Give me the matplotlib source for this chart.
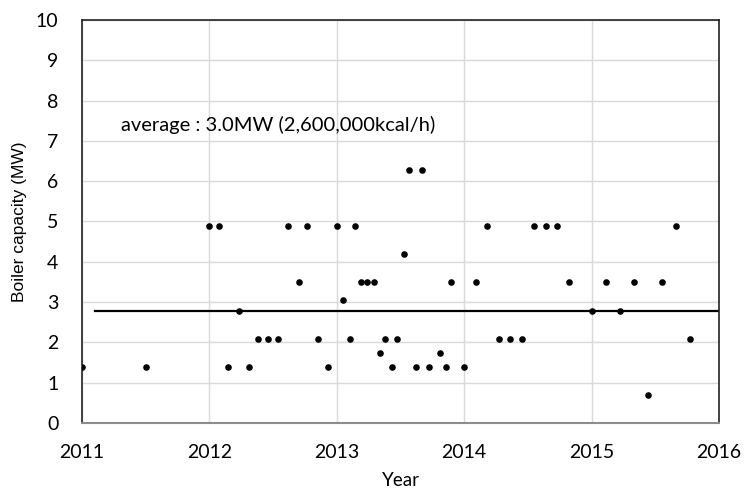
import numpy as np
import matplotlib.pyplot as plt

# installation date (decimal year) and boiler capacity (MW)
year = [2011.00, 2011.50, 2012.00, 2012.075, 2012.15, 2012.23, 2012.31, 2012.38,
        2012.46, 2012.54, 2012.62, 2012.70, 2012.77, 2012.85, 2012.93, 2013.00,
        2013.05, 2013.10, 2013.14, 2013.19, 2013.24, 2013.29, 2013.34, 2013.38,
        2013.43, 2013.47, 2013.53, 2013.57, 2013.62, 2013.67, 2013.72, 2013.81,
        2013.86, 2013.90, 2014.00, 2014.09, 2014.18, 2014.27, 2014.36, 2014.45,
        2014.55, 2014.64, 2014.73, 2014.82, 2015.00, 2015.11, 2015.22, 2015.33,
        2015.44, 2015.55, 2015.665, 2015.77]
capacity = [1.40, 1.40, 4.88, 4.88, 1.40, 2.79, 1.40, 2.09,
            2.09, 2.09, 4.88, 3.49, 4.88, 2.09, 1.40, 4.88,
            3.05, 2.09, 4.88, 3.49, 3.49, 3.49, 1.74, 2.09,
            1.40, 2.09, 4.19, 6.28, 1.40, 6.28, 1.40, 1.74,
            1.40, 3.49, 1.40, 3.49, 4.88, 2.09, 2.09, 2.09,
            4.88, 4.88, 4.88, 3.49, 2.79, 3.49, 2.79, 3.49,
            0.69, 3.49, 4.88, 2.09]

avg_x = [2011.10, 2016.0]
avg_y = [2.77, 2.77]
avg_text = "average : 3.0MW (2,600,000kcal/h)"

fig = plt.figure(figsize=(7.46, 4.91), dpi=100)
ax = fig.add_axes([0.1099, 0.1385, 0.8539, 0.8208])

ax.scatter(year, capacity, s=14, color="black", zorder=3)
ax.plot(avg_x, avg_y, color="black", lw=1.6, zorder=2)
ax.text(2011.31, 7.4, avg_text, fontsize=14.5, family="Lato", va="center")

ax.set_xlim(2011, 2016)
ax.set_ylim(0, 10)
ax.set_xticks(np.arange(2011, 2017, 1))
ax.set_yticks(np.arange(0, 11, 1))
ax.grid(True, color="#d9d9d9", lw=1)
ax.set_axisbelow(True)
ax.tick_params(length=0, labelsize=14)
ax.tick_params(axis="x", pad=15)
ax.tick_params(axis="y", pad=17)
for lab in ax.get_xticklabels() + ax.get_yticklabels():
    lab.set_family("Lato")

for s in ["left", "top", "right"]:
    ax.spines[s].set_color("#222222")
    ax.spines[s].set_linewidth(1.2)
ax.spines["bottom"].set_color("#8c8c8c")
ax.spines["bottom"].set_linewidth(1.5)

ax.set_xlabel("Year", fontsize=13.5, family="Lato", labelpad=8)
ax.set_ylabel("Boiler capacity (MW)", fontsize=12.5, family="Liberation Sans", labelpad=6)

plt.savefig("out.png", dpi=100)
